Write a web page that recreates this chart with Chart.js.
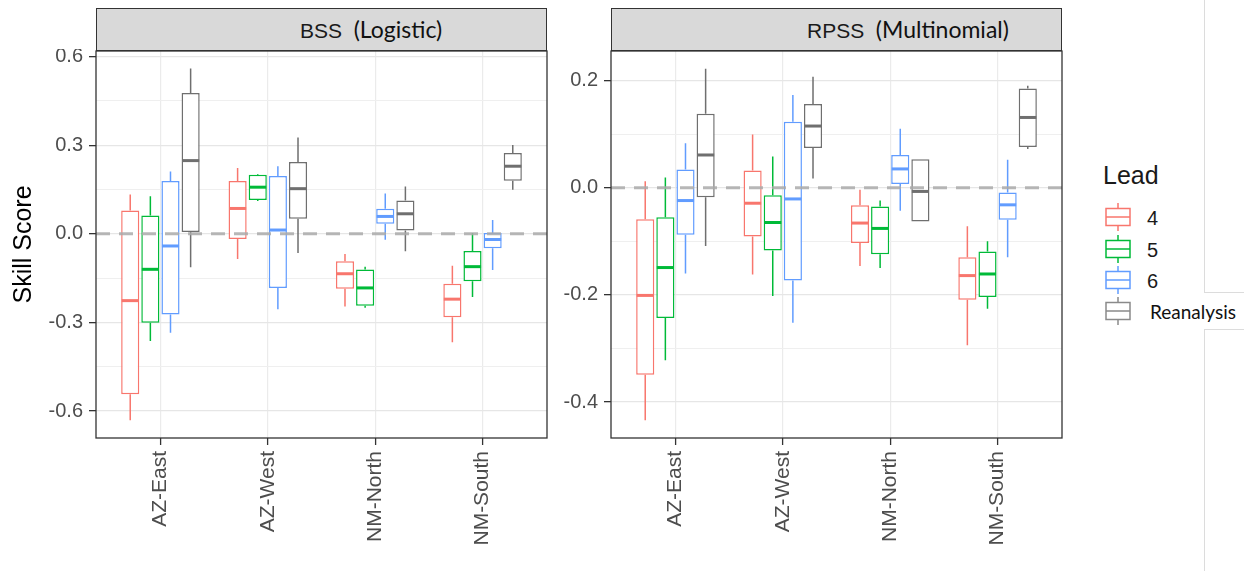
<!DOCTYPE html>
<html><head><meta charset="utf-8">
<script src="https://cdn.jsdelivr.net/npm/chart.js@4.4.1/dist/chart.umd.min.js"></script>
<style>
html,body{margin:0;padding:0;background:#fff;width:1244px;height:571px;overflow:hidden;position:relative;font-family:"Liberation Sans",Arial,sans-serif;}
.strip{position:absolute;top:8px;height:43px;background:#d9d9d9;border:1.3px solid #333;box-sizing:border-box;}
.stripText{position:absolute;top:17px;font-size:21px;color:#1a1a1a;white-space:pre;line-height:24px;}
.paren{font-family:Lato,"Open Sans",sans-serif;font-size:23px;color:#111;}
.cv{position:absolute;}
.leg{position:absolute;}
.legItem{position:absolute;left:1104px;height:31px;}
.legItem svg{position:absolute;left:0;top:0;}
.legLab{position:absolute;left:43px;top:3px;font-size:20px;color:#1a1a1a;line-height:24px;}
.vline{position:absolute;background:#dcdcdc;}
</style>
</head><body>

<div class="strip" style="left:96px;width:451px;"></div>
<div class="stripText" style="left:300px;">BSS  <span class="paren">(Logistic)</span></div>
<div class="strip" style="left:611px;width:451px;"></div>
<div class="stripText" style="left:807px;">RPSS  <span class="paren">(Multinomial)</span></div>

<canvas id="c1" class="cv" width="549" height="522" style="left:0;top:49px;"></canvas>
<canvas id="c2" class="cv" width="514" height="522" style="left:550px;top:49px;"></canvas>

<div class="leg" style="left:1103px;top:161px;font-size:25px;color:#1a1a1a;">Lead</div>
<div id="legend"></div>

<div class="vline" style="left:1204px;top:0;width:1px;height:293px;"></div>
<div class="vline" style="left:1204px;top:292px;width:40px;height:1px;"></div>
<div class="vline" style="left:1204px;top:329px;width:40px;height:1px;"></div>
<div class="vline" style="left:1204px;top:329px;width:1px;height:242px;"></div>

<script>
// ---------- data ----------
const categories = ['AZ-East', 'AZ-West', 'NM-North', 'NM-South'];
const leads = ['4', '5', '6', 'Reanalysis'];

// each entry: [lower whisker, Q1, median, Q3, upper whisker] per category
const bss4  = [[-0.631,-0.543,-0.226, 0.079, 0.133],[-0.085,-0.017, 0.086, 0.179, 0.223],[-0.246,-0.186,-0.135,-0.093,-0.068],[-0.367,-0.282,-0.221,-0.169,-0.108]];
const bss5  = [[-0.363,-0.301,-0.120, 0.062, 0.127],[ 0.111, 0.115, 0.158, 0.200, 0.203],[-0.250,-0.243,-0.183,-0.121,-0.111],[-0.214,-0.160,-0.111,-0.058, 0.003]];
const bss6  = [[-0.335,-0.273,-0.041, 0.179, 0.211],[-0.255,-0.183, 0.013, 0.196, 0.229],[-0.020, 0.034, 0.059, 0.085, 0.137],[-0.122,-0.049,-0.019, 0.003, 0.047]];
const bssRe = [[-0.113, 0.006, 0.248, 0.477, 0.560],[-0.065, 0.051, 0.153, 0.243, 0.326],[-0.059, 0.011, 0.068, 0.113, 0.160],[ 0.149, 0.180, 0.229, 0.274, 0.301]];

const rpss4  = [[-0.434,-0.349,-0.201,-0.059, 0.012],[-0.162,-0.091,-0.029, 0.032, 0.099],[-0.146,-0.103,-0.066,-0.033,-0.004],[-0.294,-0.209,-0.164,-0.130,-0.072]];
const rpss5  = [[-0.322,-0.243,-0.149,-0.055, 0.019],[-0.202,-0.117,-0.065,-0.014, 0.058],[-0.150,-0.124,-0.076,-0.035,-0.024],[-0.226,-0.204,-0.161,-0.119,-0.100]];
const rpss6  = [[-0.160,-0.088,-0.024, 0.034, 0.083],[-0.252,-0.173,-0.021, 0.123, 0.173],[-0.043, 0.007, 0.035, 0.061, 0.110],[-0.130,-0.060,-0.032,-0.009, 0.052]];
const rpssRe = [[-0.109,-0.018, 0.061, 0.138, 0.222],[ 0.017, 0.074, 0.115, 0.156, 0.207],[-0.063,-0.063,-0.007, 0.053, 0.053],[ 0.072, 0.076, 0.131, 0.185, 0.190]];

const bssMajorTicks  = [-0.6, -0.3, 0.0, 0.3, 0.6];
const bssMinorTicks  = [-0.45, -0.15, 0.15, 0.45];
const rpssMajorTicks = [-0.4, -0.2, 0.0, 0.2];
const rpssMinorTicks = [-0.3, -0.1, 0.1];
const referenceLine = 0.0;

// ---------- styles ----------
const colors = ['#F8766D', '#00BA38', '#619CFF', '#6f6f6f'];
const legendColors = ['#F8766D', '#00BA38', '#619CFF', '#8a8a8a'];
const FONT = '"Liberation Sans", Arial, sans-serif';

function buildDatasets(list) {
  return list.map((stats, k) => ({
    label: leads[k],
    data: stats.map((s, i) => ({ x: i, y: [s[1], s[3]] })),
    stats: stats,
    backgroundColor: '#ffffff',
    borderColor: colors[k],
    borderWidth: 1.5,
    borderSkipped: false,
    categoryPercentage: 0.75,
    barPercentage: 0.9
  }));
}

const boxPlugin = {
  id: 'boxWhiskers',
  afterDatasetsDraw(chart) {
    const ctx = chart.ctx, ys = chart.scales.y, area = chart.chartArea;
    chart.data.datasets.forEach((ds, i) => {
      const meta = chart.getDatasetMeta(i);
      meta.data.forEach((el, j) => {
        const s = ds.stats[j];
        const p = el.getProps(['x', 'width'], true);
        ctx.save();
        ctx.strokeStyle = ds.borderColor;
        ctx.lineWidth = 1.5;
        ctx.beginPath();
        ctx.moveTo(p.x, ys.getPixelForValue(s[3])); ctx.lineTo(p.x, ys.getPixelForValue(s[4]));
        ctx.moveTo(p.x, ys.getPixelForValue(s[1])); ctx.lineTo(p.x, ys.getPixelForValue(s[0]));
        ctx.stroke();
        const ym = ys.getPixelForValue(s[2]);
        ctx.lineWidth = 3;
        ctx.beginPath();
        ctx.moveTo(p.x - p.width / 2 + 0.5, ym); ctx.lineTo(p.x + p.width / 2 - 0.5, ym);
        ctx.stroke();
        ctx.restore();
      });
    });
    const y0 = ys.getPixelForValue(referenceLine);
    ctx.save();
    ctx.strokeStyle = 'rgba(170,170,170,0.85)';
    ctx.lineWidth = 3;
    ctx.setLineDash([14, 9]);
    ctx.beginPath(); ctx.moveTo(area.left, y0); ctx.lineTo(area.right, y0); ctx.stroke();
    ctx.restore();
  },
  afterDraw(chart) {
    const a = chart.chartArea, ctx = chart.ctx;
    ctx.save();
    ctx.strokeStyle = '#333333';
    ctx.lineWidth = 1.3;
    ctx.strokeRect(a.left, a.top, a.right - a.left, a.bottom - a.top);
    ctx.restore();
  }
};

function near(list, v) { return list.some(t => Math.abs(t - v) < 1e-6); }

function makeChart(id, list, yMin, yMax, majors, minors, yWidth, withTitle) {
  const all = majors.concat(minors).sort((a, b) => a - b);
  return new Chart(document.getElementById(id), {
    type: 'bar',
    data: { datasets: buildDatasets(list) },
    plugins: [boxPlugin],
    options: {
      responsive: false, animation: false, devicePixelRatio: 1,
      layout: { padding: { top: 2, right: 2, left: 0, bottom: 0 } },
      plugins: { legend: { display: false }, tooltip: { enabled: false } },
      scales: {
        x: {
          type: 'linear', min: -0.6, max: categories.length - 0.4, offset: false,
          afterBuildTicks: s => { s.ticks = categories.map((c, i) => ({ value: i })); },
          afterFit: s => { s.height = 133; s.paddingLeft = 0; s.paddingRight = 0; s.paddingTop = 0; s.paddingBottom = 0; },
          ticks: {
            autoSkip: false, minRotation: 90, maxRotation: 90, padding: 6,
            color: '#4d4d4d', font: { size: 21, family: FONT },
            callback: (v, i) => categories[i]
          },
          grid: { offset: false, color: '#ebebeb', lineWidth: 1.2, tickLength: 7, tickColor: '#333333', tickWidth: 1.3 },
          border: { display: false }
        },
        y: {
          type: 'linear', min: yMin, max: yMax,
          afterBuildTicks: s => { s.ticks = all.map(v => ({ value: v })); },
          afterFit: s => { s.width = yWidth; s.paddingTop = 0; s.paddingBottom = 0; s.paddingLeft = 0; s.paddingRight = 0; },
          ticks: {
            padding: 6, color: '#4d4d4d', font: { size: 20, family: FONT },
            callback: (v) => near(majors, v) ? v.toFixed(1) : ''
          },
          grid: {
            color: c => near(majors, c.tick.value) ? '#e6e6e6' : '#efefef',
            lineWidth: c => near(majors, c.tick.value) ? 1.3 : 1,
            tickLength: 7,
            tickColor: c => near(majors, c.tick.value) ? '#333333' : 'rgba(0,0,0,0)',
            tickWidth: 1.3
          },
          border: { display: false },
          title: {
            display: withTitle, text: 'Skill Score', color: '#000000',
            font: { size: 25, family: FONT }, padding: { top: 9, bottom: 0 }
          }
        }
      }
    }
  });
}

makeChart('c1', [bss4, bss5, bss6, bssRe], -0.691, 0.619, bssMajorTicks, bssMinorTicks, 96, true);
makeChart('c2', [rpss4, rpss5, rpss6, rpssRe], -0.467, 0.255, rpssMajorTicks, rpssMinorTicks, 61, false);

// ---------- legend ----------
const legTops = [203, 234.5, 265.5, 297];
const legEl = document.getElementById('legend');
leads.forEach((name, k) => {
  const d = document.createElement('div');
  d.className = 'legItem';
  d.style.top = legTops[k] + 'px';
  const c = legendColors[k];
  d.innerHTML = '<svg width="28" height="28" viewBox="0 0 28 28">' +
    '<line x1="14" y1="0" x2="14" y2="28" stroke="' + c + '" stroke-width="1.5"/>' +
    '<rect x="2" y="5.5" width="24" height="17" fill="#fff" stroke="' + c + '" stroke-width="1.5"/>' +
    '<line x1="2" y1="14" x2="26" y2="14" stroke="' + c + '" stroke-width="1.5"/></svg>' +
    '<div class="legLab" style="' + (k === 3 ? 'left:46px;font-family:Lato,sans-serif;font-size:19px;top:3px;color:#111;' : '') + '">' + name + '</div>';
  legEl.appendChild(d);
});
</script>
</body></html>
